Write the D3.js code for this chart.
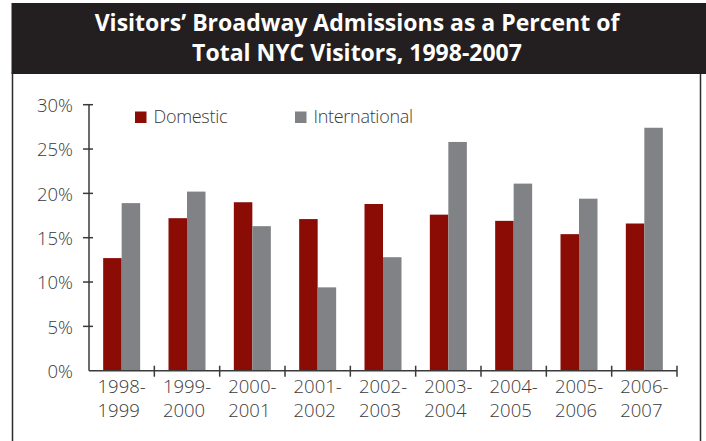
<!DOCTYPE html>
<html>
<head>
<meta charset="utf-8">
<script src="https://cdn.jsdelivr.net/npm/d3@7/dist/d3.min.js"></script>
<style>
  body { margin: 0; background: #fff; }
  svg text { font-family: "Open Sans", "Noto Sans", sans-serif; font-weight: 300; }
</style>
</head>
<body>
<div id="chart"></div>
<script>
  var periods = ["1998-1999", "1999-2000", "2000-2001", "2001-2002", "2002-2003",
                 "2003-2004", "2004-2005", "2005-2006", "2006-2007"];
  var domestic = [12.7, 17.2, 19.0, 17.1, 18.8, 17.6, 16.9, 15.4, 16.6];
  var international = [18.9, 20.2, 16.3, 9.4, 12.8, 25.8, 21.1, 19.4, 27.4];
  var seriesNames = ["Domestic", "International"];
  var yTicks = [0, 5, 10, 15, 20, 25, 30];
  var titleLines = ["Visitors\u2019 Broadway Admissions as a Percent of", "Total NYC Visitors, 1998-2007"];

  var colors = ["#8b0c04", "#818285"];
  var W = 706, H = 441;
  var margin = {top: 104.7, left: 89, right: 29, bottom: 70.3};

  var svg = d3.select("#chart").append("svg")
    .attr("width", W)
    .attr("height", H);

  // frame + title band
  svg.append("rect")
    .attr("x", 12.5).attr("y", 73).attr("width", 688).attr("height", 380)
    .attr("fill", "none").attr("stroke", "#2b2b2b").attr("stroke-width", 1.5);
  svg.append("rect")
    .attr("x", 11.5).attr("y", 3).attr("width", W - 11.5).attr("height", 71)
    .attr("fill", "#231f20");

  svg.append("text")
    .attr("x", 357).attr("y", 31)
    .attr("text-anchor", "middle")
    .attr("fill", "#fff")
    .style("font-size", "23px")
    .style("font-weight", "bold")
    .selectAll("tspan")
    .data(titleLines)
    .enter().append("tspan")
    .attr("x", 357)
    .attr("dy", function (d, i) { return i ? 30 : 0; })
    .text(function (d) { return d; });

  var x = d3.scaleBand()
    .domain(periods)
    .range([margin.left, W - margin.right]);

  var x1 = d3.scaleBand()
    .domain(seriesNames)
    .range([0, 37]);

  var y = d3.scaleLinear()
    .domain([0, 30])
    .range([H - margin.bottom, margin.top]);

  var axisColor = "#3a3a3a";

  var yAxis = d3.axisLeft(y)
    .tickValues(yTicks)
    .tickSize(0)
    .tickPadding(16)
    .tickFormat(function (d) { return d + "%"; });

  var gy = svg.append("g")
    .attr("transform", "translate(" + margin.left + ",0)")
    .call(yAxis);
  gy.select(".domain").remove();
  gy.selectAll("text")
    .attr("fill", "#3a3a3a")
    .style("font-size", "18.5px")
    .attr("dy", "0.36em");

  // y tick marks crossing the axis
  svg.append("g").selectAll("line")
    .data(yTicks.filter(function (d) { return d > 0; }))
    .enter().append("line")
    .attr("x1", margin.left - 6).attr("x2", margin.left + 4)
    .attr("y1", function (d) { return y(d); })
    .attr("y2", function (d) { return y(d); })
    .attr("stroke", axisColor).attr("stroke-width", 1.5);

  var groups = svg.append("g").selectAll("g")
    .data(periods)
    .enter().append("g")
    .attr("transform", function (d) {
      return "translate(" + (x(d) + (x.bandwidth() - 37) / 2) + ",0)";
    });

  groups.selectAll("rect")
    .data(function (d, i) {
      return [{key: "Domestic", v: domestic[i]}, {key: "International", v: international[i]}];
    })
    .enter().append("rect")
    .attr("x", function (d) { return x1(d.key); })
    .attr("width", x1.bandwidth())
    .attr("y", function (d) { return y(d.v); })
    .attr("height", function (d) { return y(0) - y(d.v); })
    .attr("fill", function (d, i) { return colors[i]; });

  // axes lines
  svg.append("line")
    .attr("x1", margin.left).attr("x2", margin.left)
    .attr("y1", margin.top).attr("y2", y(0))
    .attr("stroke", axisColor).attr("stroke-width", 1.5);
  svg.append("line")
    .attr("x1", margin.left).attr("x2", W - margin.right)
    .attr("y1", y(0)).attr("y2", y(0))
    .attr("stroke", axisColor).attr("stroke-width", 1.5);

  // x tick marks between bands
  svg.append("g").selectAll("line")
    .data(periods)
    .enter().append("line")
    .attr("x1", function (d) { return x(d) + x.bandwidth(); })
    .attr("x2", function (d) { return x(d) + x.bandwidth(); })
    .attr("y1", y(0) - 5).attr("y2", y(0) + 6)
    .attr("stroke", axisColor).attr("stroke-width", 1.5);

  var xl = svg.append("g").selectAll("text")
    .data(periods)
    .enter().append("text")
    .attr("fill", "#3a3a3a")
    .style("font-size", "18.5px")
    .attr("y", 393);

  xl.each(function (d) {
    var parts = d.split("-");
    var t = d3.select(this);
    t.append("tspan").text(parts[0] + "-");
    t.append("tspan").attr("dy", 24).text(parts[1]);
    var w = this.querySelector("tspan").getComputedTextLength();
    var cx = x(d) + x.bandwidth() / 2;
    t.selectAll("tspan").attr("x", cx - w / 2);
  });

  // legend
  var legendX = [135, 295];
  var legend = svg.append("g").selectAll("g")
    .data(seriesNames)
    .enter().append("g")
    .attr("transform", function (d, i) { return "translate(" + legendX[i] + ",111.5)"; });

  legend.append("rect")
    .attr("width", 11.5).attr("height", 11.5)
    .attr("fill", function (d, i) { return colors[i]; });

  legend.append("text")
    .attr("x", 18.5).attr("y", 11.5)
    .attr("fill", "#3a3a3a")
    .style("font-size", "18px")
    .style("letter-spacing", "-0.3px")
    .text(function (d) { return d; });
</script>
</body>
</html>
